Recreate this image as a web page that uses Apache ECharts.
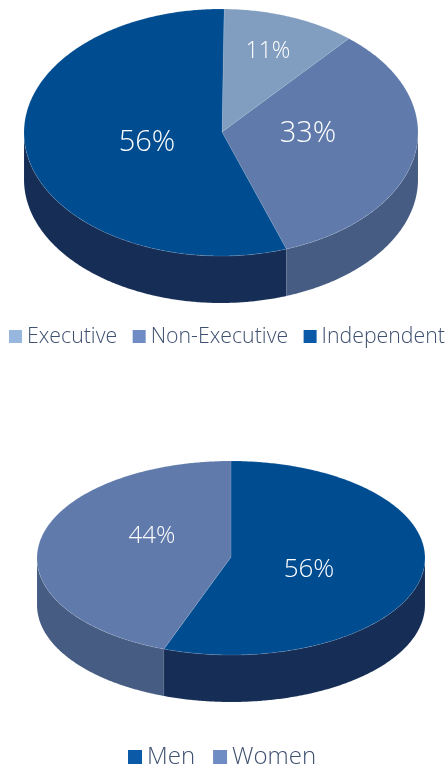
<!DOCTYPE html>
<html><head><meta charset="utf-8">
<style>html,body{margin:0;padding:0;background:#fff}#c{width:448px;height:767px}</style>
<script src="https://cdn.jsdelivr.net/npm/echarts@6/dist/echarts.min.js"></script>
</head><body><div id="c"></div>
<script>
const boardCategories = ['Executive', 'Non-Executive', 'Independent'];
const boardValues = [11, 33, 56];
const genderCategories = ['Men', 'Women'];
const genderValues = [56, 44];

const boardTop = ['#819EC0', '#5F7AAB', '#004C90'];
const boardSide = ['#5F7690', '#465C82', '#162D56'];
const boardSwatch = ['#97B7DF', '#6F8DC4', '#0A5AA8'];
const genderTop = ['#004C90', '#5F7AAB'];
const genderSide = ['#162D56', '#465C82'];
const genderSwatch = ['#0A5AA8', '#6F8DC4'];

const boardShape = {cx: 221, cy: 132.5, apexX: 222, apexY: 132, rx: 197, ry: 123.5, depth: 47, start: 0.9,
  labels: [[268, 51, 23], [308, 134, 29], [147, 143, 29]]};
const genderShape = {cx: 231, cy: 558, apexX: 231, apexY: 557, rx: 194, ry: 97, depth: 47, start: 0,
  labels: [[309, 570, 26], [152, 536, 24]]};

const FONT = '"Open Sans", "Noto Sans", sans-serif';
const DEG = Math.PI / 180;
const FRONT_WARP = -2 * DEG; // slight perspective squeeze toward the viewer

function pt(s, a, dy) {
  const w = Math.cos(a) < 0 ? a + FRONT_WARP * Math.sin(2 * a) : a;
  return [s.cx + s.rx * Math.sin(w), s.cy - s.ry * Math.cos(w) + (dy || 0)];
}
function arc(s, a0, a1, dy) {
  const n = Math.max(2, Math.ceil(Math.abs(a1 - a0) / 0.01));
  const out = [];
  for (let i = 0; i <= n; i++) out.push(pt(s, a0 + (a1 - a0) * i / n, dy));
  return out;
}
function makeSeries(cats, vals, tops, sides, swatches, s) {
  const total = vals.reduce((a, b) => a + b, 0);
  const off = s.start * DEG;
  let acc = 0;
  return cats.map((name, i) => {
    const start = acc / total * Math.PI * 2 + off;
    acc += vals[i];
    const end = acc / total * Math.PI * 2 + off;
    return {
      type: 'custom', name, coordinateSystem: 'none', silent: true, animation: false,
      itemStyle: {color: swatches[i]},
      data: [[start, end, vals[i]]],
      renderItem(params, api) {
        const a0 = api.value(0), a1 = api.value(1), v = api.value(2);
        const children = [];
        const lo = Math.max(a0, Math.PI / 2), hi = Math.min(a1, Math.PI * 1.5);
        if (hi > lo) {
          const front = arc(s, lo, hi, 0).concat(arc(s, hi, lo, s.depth));
          children.push({type: 'polygon', shape: {points: front},
            style: {fill: sides[i], stroke: 'rgba(255,255,255,0.12)', lineWidth: 0.5}});
        }
        const top = [[s.apexX, s.apexY]].concat(arc(s, a0, a1, 0));
        children.push({type: 'polygon', shape: {points: top},
          style: {fill: tops[i], stroke: 'rgba(255,255,255,0.22)', lineWidth: 0.5}});
        const l = s.labels[i];
        children.push({type: 'text', z2: 10, style: {
          x: l[0], y: l[1], text: v + '%', fill: '#fff', font: '300 ' + l[2] + 'px ' + FONT,
          textAlign: 'center', textVerticalAlign: 'middle'}});
        return {type: 'group', children};
      }
    };
  });
}
const legendBase = {orient: 'horizontal', icon: 'rect', padding: 0, selectedMode: false, width: 600};
const legendText = {color: '#3F5070', fontFamily: FONT, fontWeight: 300};

const chart = echarts.init(document.getElementById('c'));
chart.setOption({
  animation: false,
  backgroundColor: '#fff',
  legend: [
    Object.assign({}, legendBase, {data: boardCategories, left: 9, top: 326, itemGap: 15.5, itemWidth: 13, itemHeight: 13,
      textStyle: Object.assign({fontSize: 21.3}, legendText)}),
    Object.assign({}, legendBase, {data: genderCategories, left: 128, top: 745, itemGap: 18, itemWidth: 14, itemHeight: 14,
      textStyle: Object.assign({fontSize: 24}, legendText)})
  ],
  series: makeSeries(boardCategories, boardValues, boardTop, boardSide, boardSwatch, boardShape)
    .concat(makeSeries(genderCategories, genderValues, genderTop, genderSide, genderSwatch, genderShape))
});
</script></body></html>
